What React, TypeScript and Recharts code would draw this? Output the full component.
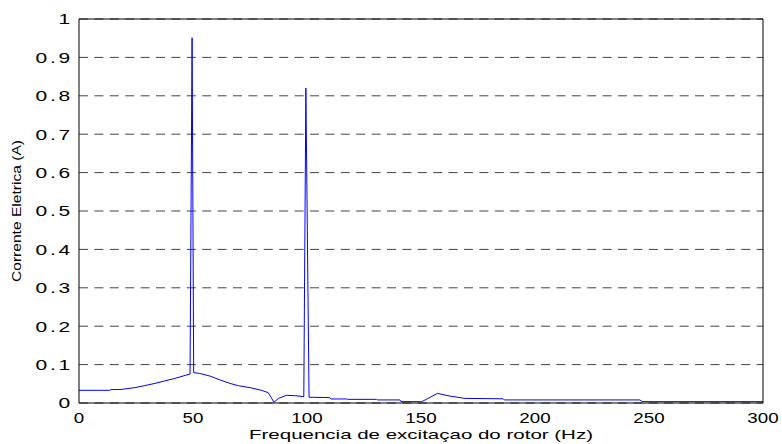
import { LineChart, Line, XAxis, YAxis, CartesianGrid } from 'recharts'

// spectrum (Hz -> A)
const FREQ = [
  0, 13.5, 14, 18, 24.6, 33.3, 42, 48.7, 49.6, 50.3,
  53, 57.5, 61, 66.2, 70, 75, 80, 83, 85.5, 87.5,
  91, 95, 98.6, 99.5, 100.9, 110, 110.5, 117.4, 117.8, 130.6,
  131, 140.8, 141.2, 150.3, 152.5, 157.2, 162.7, 169.3, 186, 186.5,
  246, 247, 300,
]
const CURRENT = [
  0.033, 0.033, 0.035, 0.035, 0.04, 0.051, 0.064, 0.0755, 0.951, 0.079,
  0.077, 0.07, 0.062, 0.051, 0.045, 0.04, 0.033, 0.027, 0.002, 0.012,
  0.02, 0.019, 0.0165, 0.82, 0.015, 0.014, 0.0105, 0.0105, 0.0095, 0.0095,
  0.008, 0.008, 0.0035, 0.0035, 0.01, 0.025, 0.018, 0.012, 0.011, 0.008,
  0.008, 0.0035, 0.0035,
]
const X_TICKS = [0, 50, 100, 150, 200, 250, 300]
const Y_TICKS = [0, 0.1, 0.2, 0.3, 0.4, 0.5, 0.6, 0.7, 0.8, 0.9, 1]
const X_LABEL = 'Frequencia de excitaçao do rotor (Hz)'
const Y_LABEL = 'Corrente Eletrica (A)'

const data = FREQ.map((f, i) => ({ f, a: CURRENT[i] }))

const FONT = '"Liberation Sans", Arial, Helvetica, sans-serif'

function XTick({ x, y, payload }: any) {
  return (
    <text
      transform={`translate(${x},${y}) scale(1.25,1)`}
      textAnchor="middle"
      dy="0.72em"
      fontSize={15}
      fontFamily={FONT}
      fill="#000"
    >
      {String(payload.value)}
    </text>
  )
}

function YTick({ x, y, payload }: any) {
  return (
    <text
      transform={`translate(${x},${y}) scale(1.4,1)`}
      textAnchor="end"
      dy="0.36em"
      fontSize={15}
      fontFamily={FONT}
      letterSpacing={2}
      fill="#000"
    >
      {String(payload.value)}
    </text>
  )
}

function XLabel({ viewBox }: any) {
  const cx = viewBox ? viewBox.x + viewBox.width / 2 : 421
  return (
    <text x={cx} y={439} textAnchor="middle" fontSize={13} fontFamily={FONT}
      textLength={344} lengthAdjust="spacingAndGlyphs" fill="#000">
      {X_LABEL}
    </text>
  )
}

function YLabel({ viewBox }: any) {
  const cy = viewBox ? viewBox.y + viewBox.height / 2 : 211
  return (
    <text transform={`translate(21,${cy}) rotate(-90)`} textAnchor="middle" fontSize={12}
      fontFamily={FONT} textLength={142} lengthAdjust="spacingAndGlyphs" fill="#000">
      {Y_LABEL}
    </text>
  )
}

export default function App() {
  return (
    <div style={{ position: 'absolute', left: 0, top: 0, width: 782, height: 444, background: '#fff' }}>
      <LineChart width={782} height={444} data={data} margin={{ top: 19, right: 19, bottom: 0, left: 0 }}>
        <CartesianGrid vertical={false} stroke="#444" strokeDasharray="9 6.4" xAxisId="b" yAxisId="l" />
        {/* inward tick marks + box, matlab style */}
        <XAxis xAxisId="bt" orientation="bottom" mirror height={1} type="number" dataKey="f"
          domain={[0, 300]} ticks={X_TICKS} tick={false} tickSize={5}
          axisLine={{ stroke: '#000' }} tickLine={{ stroke: '#000' }} />
        <XAxis xAxisId="b" orientation="bottom" height={41} type="number" dataKey="f"
          domain={[0, 300]} ticks={X_TICKS} tick={<XTick />} tickLine={false} axisLine={false}
          tickSize={6} tickMargin={3} label={<XLabel />} />
        <XAxis xAxisId="t" orientation="top" mirror height={1} type="number" dataKey="f"
          domain={[0, 300]} ticks={X_TICKS} tick={false} tickSize={5}
          axisLine={{ stroke: '#000' }} tickLine={{ stroke: '#000' }} />
        <YAxis yAxisId="l" width={79} type="number" domain={[0, 1]} ticks={Y_TICKS}
          tick={<YTick />} tickLine={false} tickSize={4} tickMargin={2}
          axisLine={{ stroke: '#000' }} label={<YLabel />} />
        <YAxis yAxisId="r" orientation="right" mirror width={1} type="number" domain={[0, 1]}
          ticks={Y_TICKS} tick={false} tickSize={5}
          axisLine={{ stroke: '#000' }} tickLine={{ stroke: '#000' }} />
        <Line xAxisId="b" yAxisId="l" type="linear" dataKey="a" stroke="#0000ff" strokeWidth={1}
          dot={false} isAnimationActive={false} />
      </LineChart>
    </div>
  )
}
